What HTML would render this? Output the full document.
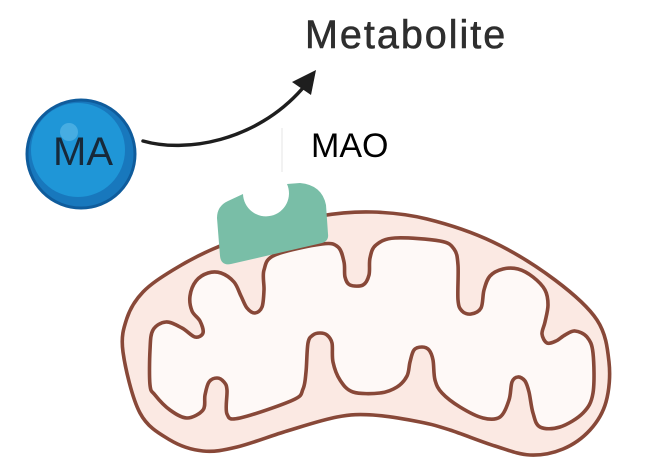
<!DOCTYPE html>
<html>
<head>
<meta charset="utf-8">
<style>
  html, body { margin: 0; padding: 0; background: #ffffff; }
  body { width: 655px; height: 464px; overflow: hidden; }
  svg { display: block; }
</style>
</head>
<body>
<svg width="655" height="464" viewBox="0 0 655 464" xmlns="http://www.w3.org/2000/svg">
  <rect x="0" y="0" width="655" height="464" fill="#ffffff"/>

  <!-- Metabolite label -->
  <text x="305" y="48" font-family="Liberation Sans, Arial, sans-serif" font-size="39.5" letter-spacing="2" fill="#2e2e2e" stroke="#2e2e2e" stroke-width="0.6">Metabolite</text>

  <!-- faint artifact line -->
  <line x1="282" y1="128" x2="282" y2="172" stroke="#e6e6e6" stroke-width="1"/>

  <!-- MA molecule -->
  <circle cx="81" cy="154" r="54" fill="#1878bd" stroke="#0f5c9c" stroke-width="3"/>
  <circle cx="78" cy="150" r="47" fill="#1f96d7"/>
  <circle cx="69" cy="132" r="9" fill="#47ade2"/>
  <text x="83" y="165" text-anchor="middle" font-family="Liberation Sans, Arial, sans-serif" font-size="40" fill="#17293a">MA</text>

  <!-- Arrow -->
  <path d="M143,141 C185,153 255,142 302,89" fill="none" stroke="#1e1e1e" stroke-width="3.5" stroke-linecap="round"/>
  <polygon points="316,70 292,82 311,95" fill="#1e1e1e"/>

  <!-- MAO label -->
  <text x="311" y="157" font-family="Liberation Sans, Arial, sans-serif" font-size="34" fill="#000000">MAO</text>

  <!-- Mitochondrion outer membrane -->
  <polygon class="smooth" fill="#fbe9e3" stroke="#884838" stroke-width="3.6" stroke-linejoin="round"
    points="123,352 127,318 143,292 173,270 213,249 265,230 320,216 372,212 427,219 493,242 555,280 597,320 609,362 606,402 590,430 563,449 530,455 495,446 450,430 420,422 373,415 337,417 287,431 237,447 203,451 170,440 140,413"/>

  <!-- Mitochondrion inner membrane (cristae) -->
  <polygon class="smooth" fill="#fef9f7" stroke="#884838" stroke-width="3.6" stroke-linejoin="round"
    points="150,385 150,350 153,330 166,322 182,328 195,337 203,333 200,321 192,311 190,296 196,281 208,273 221,273 234,282 241,296 247,308 255,313 262,307 264,290 264,270 275,255 322,244 338,247 344,262 345,277 350,285 363,285 369,275 370,258 376,245 395,238 440,241 454,249 458,265 458,300 462,311 471,314 481,308 484,290 490,276 503,269 518,269 533,277 545,290 548,305 545,322 542,334 547,343 556,341 565,335 575,331 587,337 593,353 593,393 583,413 560,427 540,427 533,413 529,392 525,381 518,377 512,382 509,400 500,417 483,418 460,407 442,393 435,380 433,360 429,350 422,347 414,350 410,362 407,376 397,387 380,393 353,392 340,380 333,362 332,343 327,335 320,333 313,335 308,343 306,372 303,389 293,400 240,418 227,414 227,390 224,382 217,378 209,382 205,395 203,410 187,418 170,410 155,395"/>

  <!-- MAO enzyme -->
  <path d="M217,218 Q217,206 228,201 L243,194 A23 23 0 1 0 287,184 L300,183 Q322,185 326,205 L328,234 Q329,241 322,243 L231,264 Q221,266 220,256 Z" fill="#79bea7"/>
</svg>
<script>
(function(){
  var pgs = document.querySelectorAll('polygon.smooth');
  for (var k = 0; k < pgs.length; k++) {
    var pg = pgs[k];
    var p = pg.getAttribute('points').trim().split(/\s+/).map(function(s){return s.split(',').map(Number);});
    var n = p.length;
    var d = 'M' + p[0][0] + ',' + p[0][1];
    for (var i = 0; i < n; i++) {
      var p0 = p[(i - 1 + n) % n], p1 = p[i], p2 = p[(i + 1) % n], p3 = p[(i + 2) % n];
      var c1x = p1[0] + (p2[0] - p0[0]) / 6, c1y = p1[1] + (p2[1] - p0[1]) / 6;
      var c2x = p2[0] - (p3[0] - p1[0]) / 6, c2y = p2[1] - (p3[1] - p1[1]) / 6;
      d += 'C' + c1x.toFixed(2) + ',' + c1y.toFixed(2) + ' ' + c2x.toFixed(2) + ',' + c2y.toFixed(2) + ' ' + p2[0] + ',' + p2[1];
    }
    d += 'Z';
    var path = document.createElementNS('http://www.w3.org/2000/svg', 'path');
    for (var j = 0; j < pg.attributes.length; j++) {
      var a = pg.attributes[j];
      if (a.name !== 'points' && a.name !== 'class') path.setAttribute(a.name, a.value);
    }
    path.setAttribute('d', d);
    pg.parentNode.replaceChild(path, pg);
  }
})();
</script>
</body>
</html>
